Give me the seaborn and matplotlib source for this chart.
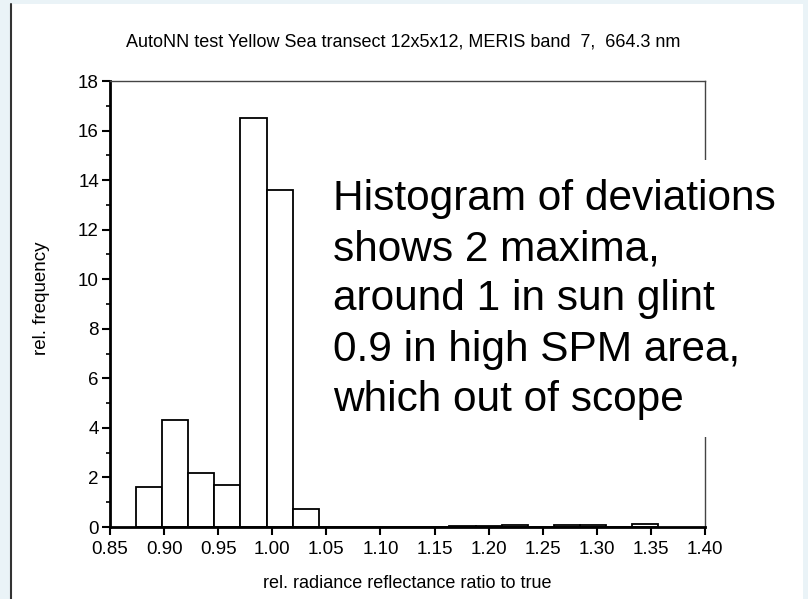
import numpy as np
import pandas as pd
import matplotlib
matplotlib.use("Agg")
import matplotlib.pyplot as plt
import seaborn as sns
from matplotlib.patches import Rectangle
from matplotlib.lines import Line2D

# ---- data ----
bin_start = 0.874
bin_width = 0.02415
n_bins = 20
rel_frequency = [1.61, 4.33, 2.18, 1.71, 16.5, 13.6, 0.71, 0.0, 0.0, 0.0,
                 0.0, 0.0, 0.04, 0.04, 0.08, 0.0, 0.08, 0.08, 0.0, 0.13]
x_ticks = [0.85, 0.90, 0.95, 1.00, 1.05, 1.10, 1.15, 1.20, 1.25, 1.30, 1.35, 1.40]
y_ticks = [0, 2, 4, 6, 8, 10, 12, 14, 16, 18]
title = "AutoNN test Yellow Sea transect 12x5x12, MERIS band  7,  664.3 nm"
xlabel = "rel. radiance reflectance ratio to true"
ylabel = "rel. frequency"
note = ("Histogram of deviations\nshows 2 maxima,\naround 1 in sun glint\n"
        "0.9 in high SPM area,\nwhich out of scope")

edges = [float(bin_start + bin_width * k) for k in range(n_bins + 1)]
centers = [(edges[i] + edges[i + 1]) / 2 for i in range(n_bins)]
df = pd.DataFrame({"ratio": centers, "freq": rel_frequency})

sns.set_theme(style="white")
plt.rcParams["font.family"] = ["Liberation Sans", "DejaVu Sans"]

W, H = 808, 599
fig = plt.figure(figsize=(W / 100, H / 100), dpi=100)
fig.patch.set_facecolor("#eaf3f7")
fig.patches.append(Rectangle((10 / W, 0), (803 - 10) / W, (H - 4) / H,
                             transform=fig.transFigure, facecolor="white",
                             edgecolor="none", zorder=-10))
fig.lines.append(Line2D([10.5 / W, 10.5 / W], [0, (H - 4) / H],
                        transform=fig.transFigure, color="#333333", lw=1.5,
                        zorder=-5))

ax = fig.add_axes([110 / W, (H - 527) / H, (705 - 110) / W, (527 - 81) / H])
ax.set_facecolor("none")

sns.histplot(data=df, x="ratio", weights="freq", bins=edges, stat="count",
             element="bars", fill=True, color="white", alpha=1,
             edgecolor="black", linewidth=1.3, ax=ax)

ax.set_xlim(0.85, 1.40)
ax.set_ylim(0, 18)
ax.set_xticks(x_ticks)
ax.set_xticklabels([f"{v:.2f}" for v in x_ticks])
ax.set_yticks(y_ticks)
ax.set_yticks(np.arange(1, 18, 2), minor=True)
ax.tick_params(axis="both", which="major", direction="out", length=6, width=1.5,
               color="black", labelsize=13.5, labelcolor="black", pad=2,
               bottom=True, left=True)
ax.tick_params(axis="x", which="major", pad=4)
ax.tick_params(axis="y", which="minor", direction="out", length=3, width=1.2,
               color="black", left=True)
ax.set_xlabel("")
ax.set_ylabel("")
for side in ["left", "bottom"]:
    ax.spines[side].set_linewidth(2)
    ax.spines[side].set_color("black")
for side in ["top", "right"]:
    ax.spines[side].set_linewidth(1)
    ax.spines[side].set_color("#444444")

fig.text(403 / W, 1 - 42 / H, title, ha="center", va="center", fontsize=13,
         color="black")
fig.text(407 / W, 1 - 584 / H, xlabel, ha="center", va="center", fontsize=13,
         color="black")
fig.text(42 / W, 1 - 298 / H, ylabel, ha="center", va="center", fontsize=13.5,
         rotation=90, color="black")

# white box that interrupts the right frame line behind the note
fig.patches.append(Rectangle((690 / W, 1 - 437 / H), 100 / W, (437 - 160) / H,
                             transform=fig.transFigure, facecolor="white",
                             edgecolor="none", zorder=2))
fig.text(333 / W, 1 - 179 / H, note, ha="left", va="top", fontsize=30.5,
         linespacing=1.33, color="black", zorder=3)

fig.savefig("out.png", dpi=100, facecolor=fig.get_facecolor())
